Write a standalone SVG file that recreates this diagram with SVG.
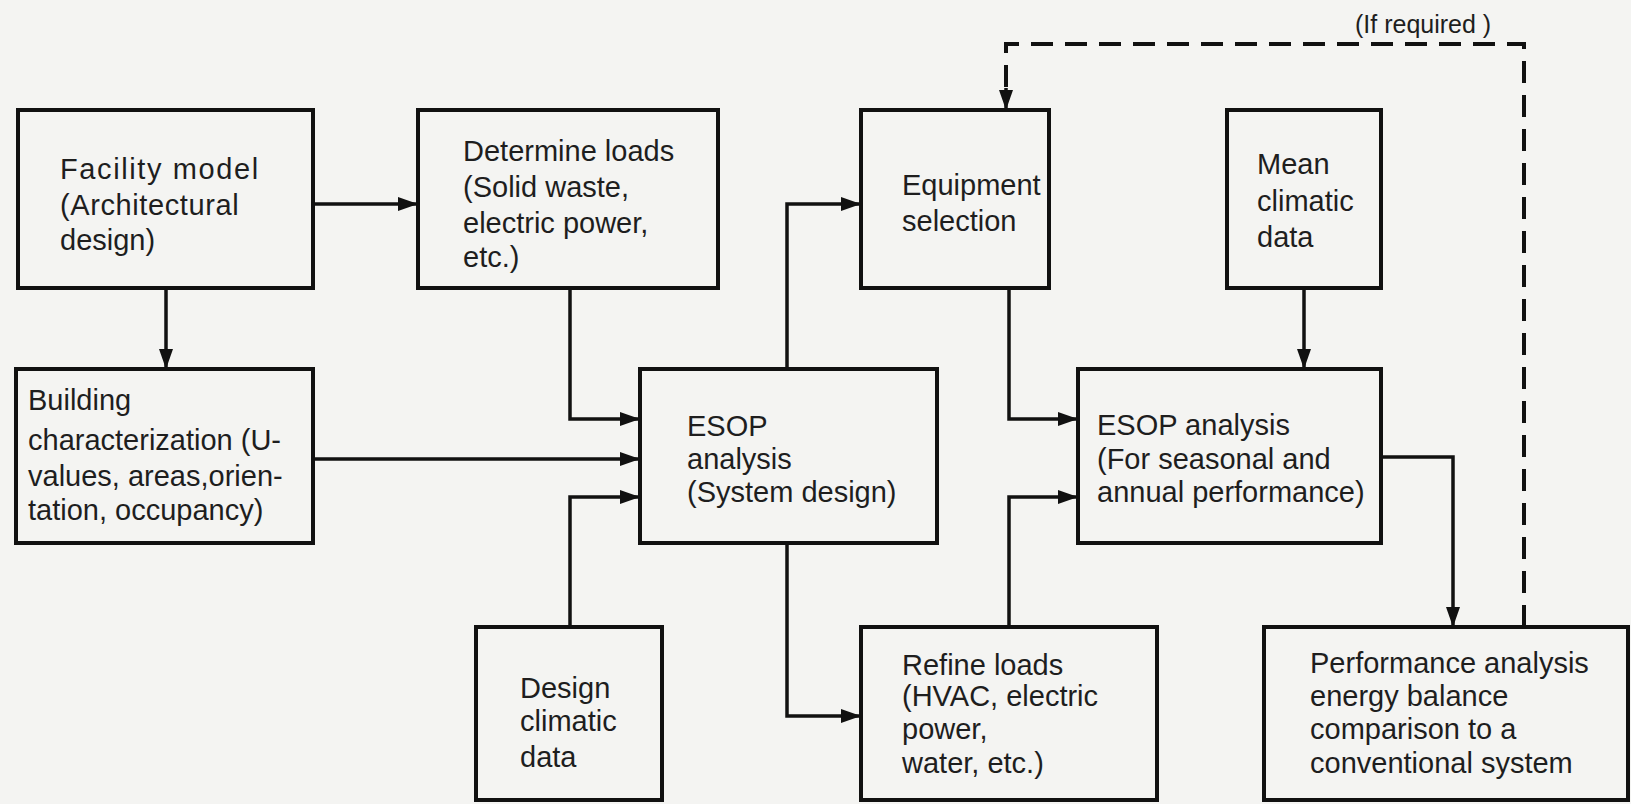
<svg xmlns="http://www.w3.org/2000/svg" width="1631" height="804" viewBox="0 0 1631 804">
<defs>
<marker id="ah" viewBox="0 0 20 14" refX="20" refY="7" markerWidth="20" markerHeight="14" markerUnits="userSpaceOnUse" orient="auto">
<path d="M0,0 L20,7 L0,14 Z" fill="#111"/>
</marker>
</defs>
<style>
.box{fill:none;stroke:#111;stroke-width:4}
.t{font-family:"Liberation Sans",Arial,sans-serif;font-size:29px;fill:#1e1e1e}
.c{fill:none;stroke:#111;stroke-width:3.5}
.d{fill:none;stroke:#111;stroke-width:4;stroke-dasharray:22,12}
</style>
<rect width="1631" height="804" fill="#f4f4f2"/>
<g id="connectors">
<path class="c" d="M313,204 H418" marker-end="url(#ah)"/>
<path class="c" d="M166,288 V369" marker-end="url(#ah)"/>
<path class="c" d="M570,288 V419 H640" marker-end="url(#ah)"/>
<path class="c" d="M313,459 H640" marker-end="url(#ah)"/>
<path class="c" d="M570,627 V497 H640" marker-end="url(#ah)"/>
<path class="c" d="M787,369 V204 H861" marker-end="url(#ah)"/>
<path class="c" d="M787,543 V716 H861" marker-end="url(#ah)"/>
<path class="c" d="M1009,288 V419 H1078" marker-end="url(#ah)"/>
<path class="c" d="M1009,627 V497 H1078" marker-end="url(#ah)"/>
<path class="c" d="M1304,288 V369" marker-end="url(#ah)"/>
<path class="c" d="M1381,457 H1453 V627" marker-end="url(#ah)"/>
<path class="d" d="M1524,627 V44 H1006 V88"/>
<path class="c" d="M1006,88 V110" marker-end="url(#ah)"/>
<text class="t" x="1355" y="33" style="font-size:25px">(If required )</text>
</g>
<g id="facility">
<rect class="box" x="18" y="110" width="295" height="178"/>
<text class="t" x="60" y="179" letter-spacing="1.6">Facility model</text>
<text class="t" x="60" y="215" letter-spacing="0.6">(Architectural</text>
<text class="t" x="60" y="250">design)</text>
</g>
<g id="determine">
<rect class="box" x="418" y="110" width="300" height="178"/>
<text class="t" x="463" y="161">Determine loads</text>
<text class="t" x="463" y="197">(Solid waste,</text>
<text class="t" x="463" y="233">electric power,</text>
<text class="t" x="463" y="267">etc.)</text>
</g>
<g id="equipment">
<rect class="box" x="861" y="110" width="188" height="178"/>
<text class="t" x="902" y="195">Equipment</text>
<text class="t" x="902" y="231">selection</text>
</g>
<g id="mean">
<rect class="box" x="1227" y="110" width="154" height="178"/>
<text class="t" x="1257" y="174">Mean</text>
<text class="t" x="1257" y="211">climatic</text>
<text class="t" x="1257" y="247">data</text>
</g>
<g id="building">
<rect class="box" x="16" y="369" width="297" height="174"/>
<text class="t" x="28" y="410">Building</text>
<text class="t" x="28" y="450">characterization (U-</text>
<text class="t" x="28" y="486">values, areas,orien-</text>
<text class="t" x="28" y="520">tation, occupancy)</text>
</g>
<g id="esop1">
<rect class="box" x="640" y="369" width="297" height="174"/>
<text class="t" x="687" y="436">ESOP</text>
<text class="t" x="687" y="469">analysis</text>
<text class="t" x="687" y="502">(System design)</text>
</g>
<g id="esop2">
<rect class="box" x="1078" y="369" width="303" height="174"/>
<text class="t" x="1097" y="435">ESOP analysis</text>
<text class="t" x="1097" y="469">(For seasonal and</text>
<text class="t" x="1097" y="502">annual performance)</text>
</g>
<g id="design">
<rect class="box" x="476" y="627" width="186" height="173"/>
<text class="t" x="520" y="698">Design</text>
<text class="t" x="520" y="731">climatic</text>
<text class="t" x="520" y="767">data</text>
</g>
<g id="refine">
<rect class="box" x="861" y="627" width="296" height="173"/>
<text class="t" x="902" y="675">Refine loads</text>
<text class="t" x="902" y="706">(HVAC, electric</text>
<text class="t" x="902" y="739">power,</text>
<text class="t" x="902" y="773">water, etc.)</text>
</g>
<g id="performance">
<rect class="box" x="1264" y="627" width="364" height="173"/>
<text class="t" x="1310" y="673">Performance analysis</text>
<text class="t" x="1310" y="706">energy balance</text>
<text class="t" x="1310" y="739">comparison to a</text>
<text class="t" x="1310" y="773">conventional system</text>
</g>
</svg>
